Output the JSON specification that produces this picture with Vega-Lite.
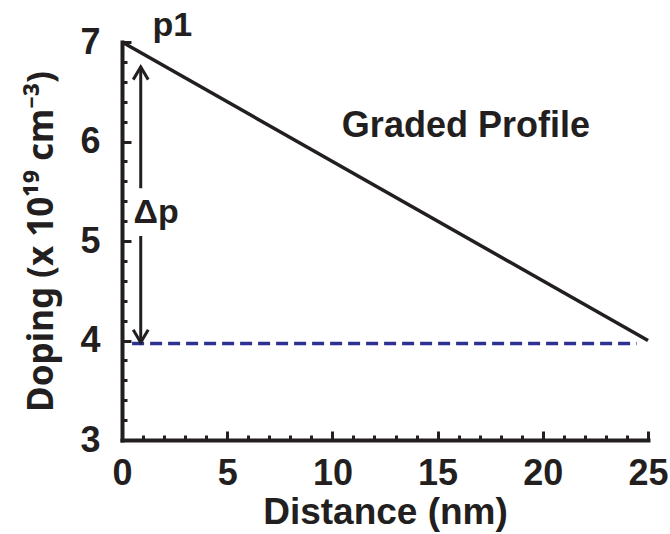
{
  "$schema": "https://vega.github.io/schema/vega-lite/v6.json",
  "width": 526,
  "height": 398,
  "autosize": "none",
  "padding": {"left": 122, "top": 42, "right": 22, "bottom": 94},
  "background": "white",
  "config": {
    "view": {"stroke": null},
    "font": "Liberation Sans",
    "axis": {
      "grid": false,
      "domainColor": "#231f20",
      "domainWidth": 4,
      "domainCap": "square",
      "tickColor": "#231f20",
      "tickWidth": 3,
      "labelFont": "Liberation Sans",
      "labelFontWeight": "bold",
      "labelFontSize": 36,
      "labelColor": "#231f20",
      "titleFont": "Liberation Sans",
      "titleFontWeight": "bold",
      "titleFontSize": 37,
      "titleColor": "#231f20"
    }
  },
  "datasets": {
    "profile": [
      {"distance": 0, "doping": 7},
      {"distance": 25, "doping": 4}
    ],
    "base": [
      {"distance": 0.48, "doping": 3.97},
      {"distance": 24.46, "doping": 3.97}
    ],
    "shafts": [
      {"distance": 0.89, "from": 6.75, "to": 5.53},
      {"distance": 0.89, "from": 5.05, "to": 3.98}
    ],
    "heads": [
      {"distance": 0.89, "doping": 6.75, "dir": "up"},
      {"distance": 0.89, "doping": 3.98, "dir": "down"}
    ],
    "notes": [
      {"distance": 1.45, "doping": 7.06, "note": "p1"},
      {"distance": 0.55, "doping": 5.18, "note": "Δp"}
    ],
    "caption": [
      {"distance": 10.45, "doping": 6.05, "note": "Graded Profile"}
    ]
  },
  "resolve": {"axis": {"x": "independent", "y": "independent"}},
  "layer": [
    {
      "data": {"name": "profile"},
      "mark": {"type": "line", "color": "#231f20", "strokeWidth": 3.5},
      "encoding": {
        "x": {
          "field": "distance", "type": "quantitative",
          "scale": {"domain": [0, 25], "nice": false, "zero": false},
          "axis": {
            "orient": "bottom",
            "values": [0, 5, 10, 15, 20, 25],
            "tickSize": -9,
            "labelPadding": 25,
            "labelFlush": false,
            "title": "Distance (nm)",
            "titlePadding": 3
          }
        },
        "y": {
          "field": "doping", "type": "quantitative",
          "scale": {"domain": [3, 7], "nice": false, "zero": false},
          "axis": {
            "orient": "left",
            "values": [3, 4, 5, 6, 7],
            "tickSize": -9,
            "labelPadding": 31,
            "labelFlush": false,
            "title": "Doping (x 10¹⁹ cm⁻³)",
            "titleFont": "Noto Sans",
            "titleFontSize": 35,
            "titlePadding": 20
          }
        }
      }
    },
    {
      "data": {"name": "base"},
      "mark": {"type": "line", "color": "#2e3192", "strokeWidth": 3.5, "strokeDash": [12, 6]},
      "encoding": {
        "x": {
          "field": "distance", "type": "quantitative",
          "axis": {
            "orient": "bottom",
            "values": [1, 2, 3, 4, 6, 7, 8, 9, 11, 12, 13, 14, 16, 17, 18, 19, 21, 22, 23, 24],
            "tickSize": -5,
            "labels": false,
            "domain": false,
            "title": null
          }
        },
        "y": {
          "field": "doping", "type": "quantitative",
          "axis": {
            "orient": "left",
            "values": [3.2, 3.4, 3.6, 3.8, 4.2, 4.4, 4.6, 4.8, 5.2, 5.4, 5.6, 5.8, 6.2, 6.4, 6.6, 6.8],
            "tickSize": -5,
            "labels": false,
            "domain": false,
            "title": null
          }
        }
      }
    },
    {
      "data": {"name": "shafts"},
      "mark": {"type": "rule", "color": "#231f20", "strokeWidth": 3},
      "encoding": {
        "x": {"field": "distance", "type": "quantitative", "axis": null},
        "y": {"field": "from", "type": "quantitative", "axis": null},
        "y2": {"field": "to"}
      }
    },
    {
      "data": {"name": "heads"},
      "mark": {"type": "point", "filled": false, "color": "#231f20", "strokeWidth": 3, "size": 225, "opacity": 1},
      "encoding": {
        "x": {"field": "distance", "type": "quantitative", "axis": null},
        "y": {"field": "doping", "type": "quantitative", "axis": null},
        "shape": {
          "field": "dir", "type": "nominal", "legend": null,
          "scale": {"domain": ["up", "down"], "range": ["M-1,1.7L0,0L1,1.7", "M-1,-1.7L0,0L1,-1.7"]}
        }
      }
    },
    {
      "data": {"name": "notes"},
      "mark": {"type": "text", "align": "left", "baseline": "alphabetic", "font": "Liberation Sans", "fontWeight": "bold", "fontSize": 34, "color": "#231f20"},
      "encoding": {
        "x": {"field": "distance", "type": "quantitative", "axis": null},
        "y": {"field": "doping", "type": "quantitative", "axis": null},
        "text": {"field": "note"}
      }
    },
    {
      "data": {"name": "caption"},
      "mark": {"type": "text", "align": "left", "baseline": "alphabetic", "font": "Liberation Sans", "fontWeight": "bold", "fontSize": 36, "color": "#231f20"},
      "encoding": {
        "x": {"field": "distance", "type": "quantitative", "axis": null},
        "y": {"field": "doping", "type": "quantitative", "axis": null},
        "text": {"field": "note"}
      }
    }
  ]
}
